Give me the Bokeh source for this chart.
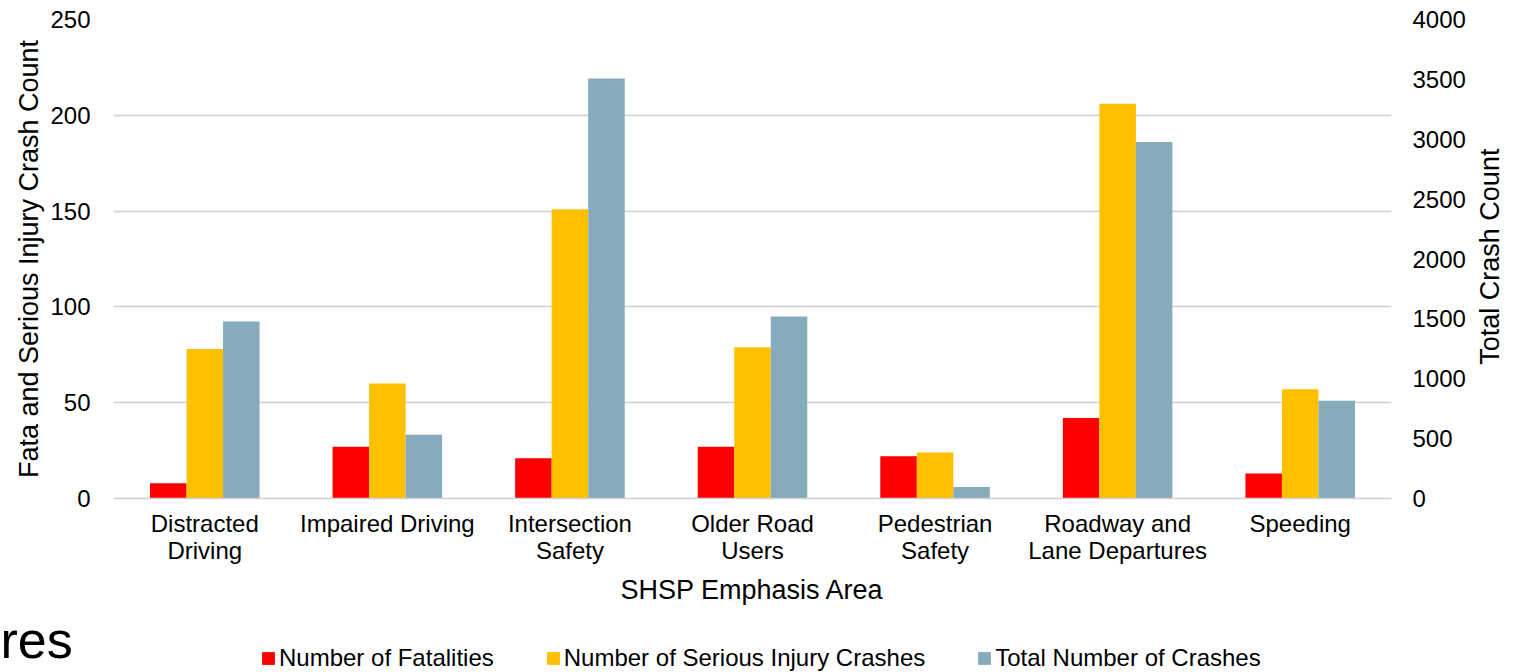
import math
from bokeh.plotting import figure
from bokeh.layouts import column, row
from bokeh.models import (ColumnDataSource, LinearAxis, Range1d, FactorRange, Legend,
                          LegendItem, Label, FixedTicker)
from bokeh.transform import dodge
from bokeh.embed import file_html
from bokeh.resources import INLINE

# ---- data ----
categories = ["Distracted\nDriving", "Impaired Driving", "Intersection\nSafety",
              "Older Road\nUsers", "Pedestrian\nSafety", "Roadway and\nLane Departures",
              "Speeding"]
fatalities = [8, 27, 21, 27, 22, 42, 13]
serious_injury = [78, 60, 151, 79, 24, 206, 57]
total_crashes = [1478, 533, 3507, 1520, 95, 2977, 817]
left_ticks = [0, 50, 100, 150, 200, 250]
right_ticks = [0, 500, 1000, 1500, 2000, 2500, 3000, 3500, 4000]
series_names = ["Number of Fatalities", "Number of Serious Injury Crashes",
                "Total Number of Crashes"]

FONT = "Liberation Sans"
RED, YELLOW, BLUE = "#FF0000", "#FFC000", "#85ABBD"
GRID = "#D0D0D0"

src = ColumnDataSource(dict(cat=categories, fat=fatalities, ser=serious_injury,
                            tot=total_crashes))

# ---------------- main chart ----------------
p = figure(x_range=FactorRange(factors=categories), y_range=Range1d(0, 250),
           width=1470, height=610, output_backend="svg", toolbar_location=None,
           min_border_left=113, min_border_right=79, min_border_top=19,
           min_border_bottom=112)
p.extra_y_ranges = {"right": Range1d(0, 4000)}
p.outline_line_color = None

r1 = p.vbar(x=dodge("cat", -0.2, range=p.x_range), top="fat", width=0.2, source=src,
            fill_color=RED, line_color=None)
r2 = p.vbar(x=dodge("cat", 0.0, range=p.x_range), top="ser", width=0.2, source=src,
            fill_color=YELLOW, line_color=None)
r3 = p.vbar(x=dodge("cat", 0.2, range=p.x_range), top="tot", width=0.2, source=src,
            fill_color=BLUE, line_color=None, y_range_name="right")

p.xgrid.visible = False
p.ygrid.ticker = FixedTicker(ticks=left_ticks)
p.ygrid.grid_line_color = GRID
p.ygrid.grid_line_width = 1.5


def style_axis(ax):
    ax.axis_line_color = None
    ax.major_tick_line_color = None
    ax.minor_tick_line_color = None
    ax.major_tick_out = 0
    ax.major_tick_in = 0
    ax.minor_tick_out = 0
    ax.minor_tick_in = 0
    ax.major_label_text_font = FONT
    ax.major_label_text_font_size = "24px"
    ax.major_label_text_color = "black"
    ax.axis_label_text_font = FONT
    ax.axis_label_text_font_size = "27px"
    ax.axis_label_text_font_style = "normal"
    ax.axis_label_text_color = "black"


ya = p.yaxis[0]
style_axis(ya)
ya.ticker = FixedTicker(ticks=left_ticks)
ya.axis_label = "Fata and Serious Injury Crash Count"
ya.major_label_standoff = 23
ya.axis_label_standoff = 3

ra = LinearAxis(y_range_name="right", ticker=FixedTicker(ticks=right_ticks))
style_axis(ra)
ra.major_label_standoff = 21
p.add_layout(ra, "right")

xa = p.xaxis[0]
style_axis(xa)
xa.axis_line_color = GRID
xa.axis_line_width = 1.5
xa.axis_label = "SHSP Emphasis Area"
xa.major_label_standoff = 11
xa.major_label_text_line_height = 1.03
xa.axis_label_standoff = 8

# ---------------- right-hand strip: right axis title ----------------
pr = figure(width=52, height=610, x_range=Range1d(0, 52), y_range=Range1d(0, 610),
            output_backend="svg", toolbar_location=None,
            x_axis_location=None, y_axis_location=None,
            min_border=0, min_border_left=0, min_border_right=0,
            min_border_top=0, min_border_bottom=0)
pr.outline_line_color = None
pr.grid.visible = False
pr.add_layout(Label(x=19, y=308, text="Total Crash Count", angle=math.pi / 2,
                    text_align="center", text_baseline="middle",
                    text_font=FONT, text_font_size="27px", text_color="black"))

# ---------------- bottom strip: legend + title fragment ----------------
pb = figure(width=1522, height=62, x_range=Range1d(0, 1522), y_range=Range1d(0, 62),
            output_backend="svg", toolbar_location=None,
            x_axis_location=None, y_axis_location=None,
            min_border=0, min_border_left=0, min_border_right=0,
            min_border_top=0, min_border_bottom=0)
pb.outline_line_color = None
pb.grid.visible = False
colors = [RED, YELLOW, BLUE]
# zero-size key glyphs (only used to draw the legend swatches)
swatches = [pb.vbar(x=[0], top=[0], bottom=[0], width=0, fill_color=c, line_color=None)
            for c in colors]
legend = Legend(items=[LegendItem(label=n, renderers=[s]) for n, s in zip(series_names, swatches)],
                orientation="horizontal", location=(260, 0))
legend.glyph_width = 16
legend.glyph_height = 16
legend.label_standoff = 3
legend.spacing = 51
legend.padding = 0
legend.margin = 0
legend.border_line_color = None
legend.background_fill_alpha = 0
legend.label_text_font = FONT
legend.label_text_font_size = "24px"
legend.label_text_color = "black"
pb.add_layout(legend, "center")
pb.add_layout(Label(x=0, y=33, text="res", text_align="left", text_baseline="alphabetic",
                    text_font=FONT, text_font_size="52px", text_color="black"))

layout = column(row(p, pr, spacing=0), pb, spacing=0)
open("out.html", "w").write(file_html(layout, INLINE))
